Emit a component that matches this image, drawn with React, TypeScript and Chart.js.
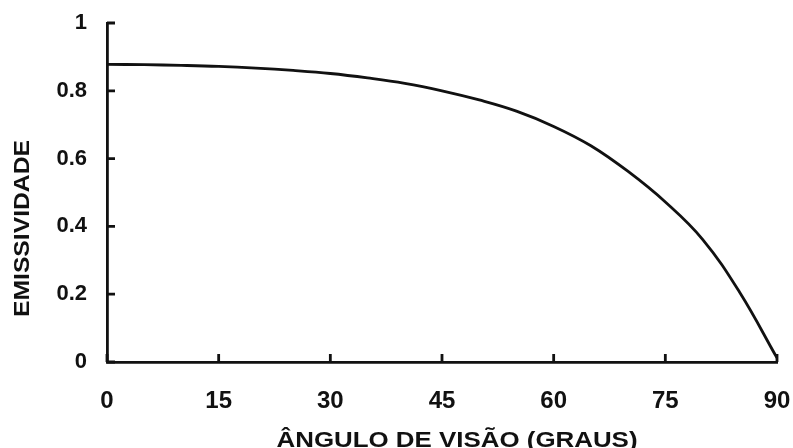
import React, { useEffect, useRef } from "react";
import { Chart, registerables } from "chart.js";

Chart.register(...registerables);

const angles = [0, 5, 10, 15, 20, 25, 30, 35, 40, 45, 50, 55, 60, 65, 70, 75, 80, 85, 90];
const emissivity = [
  0.878, 0.877, 0.875, 0.872, 0.867, 0.86, 0.851, 0.838, 0.822, 0.8, 0.773, 0.74, 0.695,
  0.638, 0.562, 0.472, 0.362, 0.205, 0.012,
];
const xTickValues = [0, 15, 30, 45, 60, 75, 90];
const yTickValues = [0, 0.2, 0.4, 0.6, 0.8, 1];
const xTitle = "ÂNGULO DE VISÃO (GRAUS)";
const yTitle = "EMISSIVIDADE";

const INK = "#111111";
const FONT = "'Liberation Sans', Arial, Helvetica, sans-serif";

function stretchedText(
  ctx: CanvasRenderingContext2D,
  text: string,
  x: number,
  y: number,
  size: number,
  targetWidth: number,
  rotate: boolean
) {
  ctx.save();
  ctx.font = `bold ${size}px ${FONT}`;
  const w = ctx.measureText(text).width;
  const sx = targetWidth / w;
  ctx.translate(x, y);
  if (rotate) ctx.rotate(-Math.PI / 2);
  ctx.scale(sx, 1);
  ctx.fillStyle = INK;
  ctx.textAlign = "center";
  ctx.textBaseline = "alphabetic";
  ctx.fillText(text, 0, 0);
  ctx.restore();
}

const axisDecor = {
  id: "axisDecor",
  afterDraw(chart: any) {
    const { ctx, chartArea, scales } = chart;
    const xs = scales.x;
    const ys = scales.y;
    ctx.save();
    ctx.strokeStyle = INK;
    ctx.lineWidth = 2.8;
    ctx.beginPath();
    xs.ticks.forEach((t: any) => {
      const px = xs.getPixelForValue(t.value);
      ctx.moveTo(px, chartArea.bottom);
      ctx.lineTo(px, chartArea.bottom - 8);
    });
    ys.ticks.forEach((t: any) => {
      const py = ys.getPixelForValue(t.value);
      ctx.moveTo(chartArea.left, py);
      ctx.lineTo(chartArea.left + 8, py);
    });
    ctx.stroke();
    ctx.restore();
    stretchedText(ctx, xTitle, 457, 446.5, 22, 361, false);
    stretchedText(ctx, yTitle, 28.5, 228.5, 21.5, 177, true);
  },
};

export default function App() {
  const ref = useRef<HTMLCanvasElement | null>(null);
  useEffect(() => {
    if (!ref.current) return;
    const chart = new Chart(ref.current, {
      type: "line",
      data: {
        datasets: [
          {
            data: angles.map((a, i) => ({ x: a, y: emissivity[i] })),
            borderColor: INK,
            borderWidth: 2.8,
            pointRadius: 0,
            fill: false,
            tension: 0.4,
          },
        ],
      },
      options: {
        animation: false,
        responsive: false,
        devicePixelRatio: 1,
        layout: { padding: { top: 23, right: 16, left: 0, bottom: 0 } },
        plugins: { legend: { display: false }, tooltip: { enabled: false } },
        scales: {
          x: {
            type: "linear",
            min: 0,
            max: 90,
            afterBuildTicks: (s: any) => {
              s.ticks = xTickValues.map((v) => ({ value: v }));
            },
            afterFit: (s: any) => {
              s.height = 86;
              s.paddingLeft = 0;
              s.paddingRight = 0;
            },
            grid: { display: false, drawTicks: false },
            border: { display: true, color: INK, width: 2.8 },
            ticks: {
              color: INK,
              font: { family: FONT, size: 24, weight: "bold" },
              padding: 25,
              maxRotation: 0,
              autoSkip: false,
            },
          },
          y: {
            type: "linear",
            min: 0,
            max: 1,
            afterBuildTicks: (s: any) => {
              s.ticks = yTickValues.map((v) => ({ value: v }));
            },
            afterFit: (s: any) => {
              s.width = 107;
              s.paddingTop = 0;
              s.paddingBottom = 0;
            },
            grid: { display: false, drawTicks: false },
            border: { display: true, color: INK, width: 2.8 },
            ticks: {
              color: INK,
              font: { family: FONT, size: 22, weight: "bold" },
              padding: 20,
              autoSkip: false,
              callback: (v: any) => String(v),
            },
          },
        },
      },
      plugins: [axisDecor],
    });
    return () => chart.destroy();
  }, []);
  return (
    <div style={{ position: "fixed", left: 0, top: 0, width: 793, height: 448, background: "#fff" }}>
      <canvas ref={ref} width={793} height={448} style={{ width: 793, height: 448, display: "block" }} />
    </div>
  );
}
